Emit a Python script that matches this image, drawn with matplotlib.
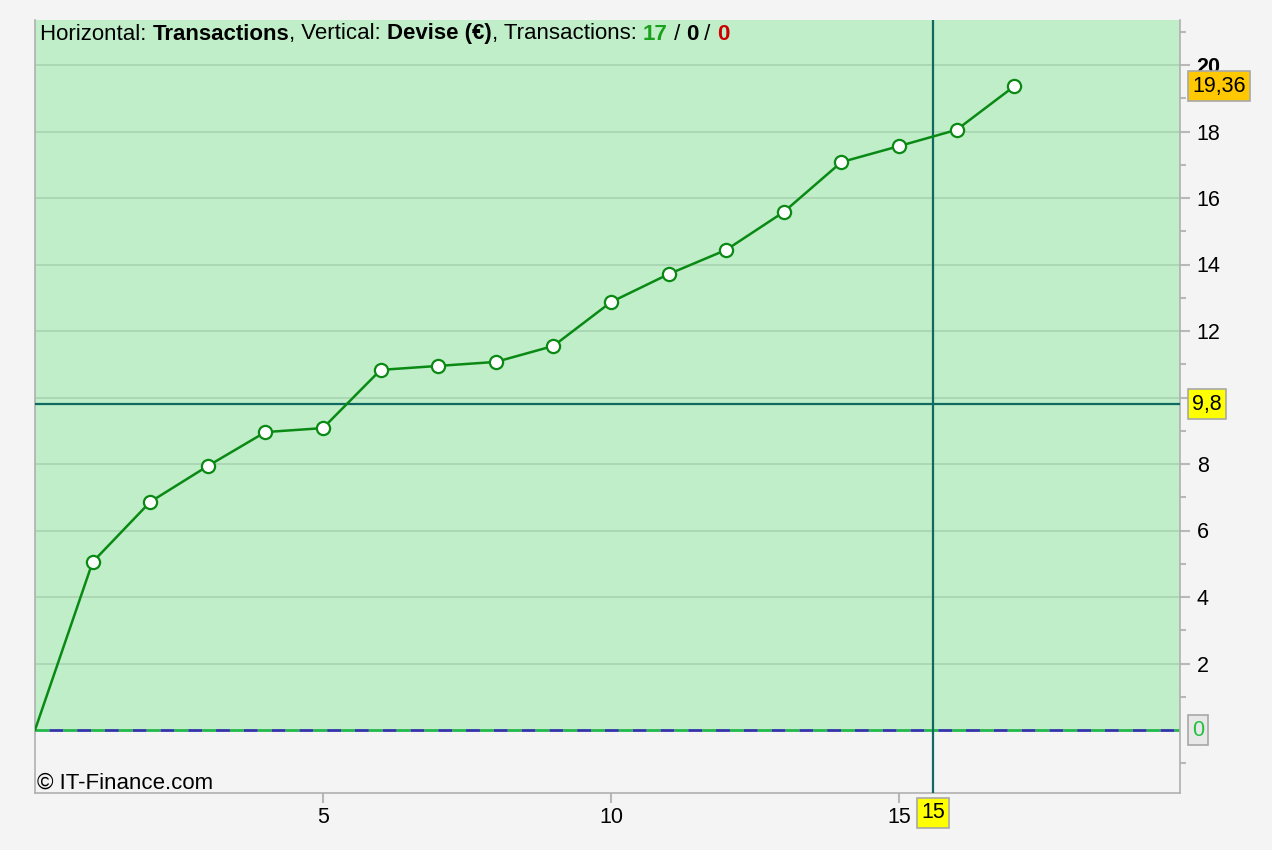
import matplotlib
matplotlib.use("Agg")
import matplotlib.pyplot as plt
from matplotlib.ticker import FixedLocator

plt.rcParams['font.family'] = ['Liberation Sans', 'DejaVu Sans']

# Data
trades = list(range(0, 18))
equity = [0, 5.05, 6.86, 7.94, 8.96, 9.08, 10.83, 10.95, 11.07, 11.55,
          12.87, 13.71, 14.44, 15.58, 17.08, 17.56, 18.05, 19.36]
y_ticks = [2, 4, 6, 8, 10, 12, 14, 16, 18, 20]
y_tick_labels = ["2", "4", "6", "8", "", "12", "14", "16", "18", "20"]
x_ticks = [5, 10, 15]
cross_x = 15.59
cross_y = 9.8
last_value = 19.36

bg = "#f4f4f4"
fill = "#bfeec8"
line_c = "#0a8a14"
cross_c = "#106a62"
FS = 15.5

fig = plt.figure(figsize=(12.72, 8.5), dpi=100, facecolor=bg)
ax = fig.add_axes([35/1272, 1-793/850, (1180-35)/1272, (793-20)/850])
ax.set_facecolor(bg)
xmin, xmax = 0, (1180-35)/57.6
ymin, ymax = -(793-730)/33.25, (730-20)/33.25
ax.set_xlim(xmin, xmax)
ax.set_ylim(ymin, ymax)

ax.axhspan(0, ymax, color=fill, zorder=0, lw=0)
for yv in y_ticks:
    ax.axhline(yv, color="#a9d3b1", lw=1.2, zorder=1)

# zero line (blue/green dashes)
ax.axhline(0, color="#22b84a", lw=2, ls=(0, (5, 5)), zorder=2)
ax.axhline(0, color="#3333aa", lw=2, ls=(5, (5, 5)), zorder=2)

# crosshair
ax.axvline(cross_x, color=cross_c, lw=1.6, zorder=3)
ax.axhline(cross_y, color=cross_c, lw=1.6, zorder=3)

ax.plot(trades, equity, color=line_c, lw=1.8, zorder=4,
        marker='o', markevery=list(range(1, len(trades))), markersize=9.5,
        markerfacecolor='white', markeredgecolor=line_c, markeredgewidth=1.6)

for s in ax.spines.values():
    s.set_color("#b0b0b0")
    s.set_linewidth(1.2)
ax.spines['top'].set_visible(False)

ax.yaxis.tick_right()
ax.yaxis.set_major_locator(FixedLocator(y_ticks))
ax.set_yticklabels(y_tick_labels)
ax.yaxis.set_minor_locator(FixedLocator([-1, 1, 3, 5, 7, 9, 11, 13, 15, 17, 19, 21]))
ax.tick_params(axis='y', which='major', length=7, width=1.5, color="#b8b8b8",
               labelsize=FS, pad=5, labelcolor="black")
ax.tick_params(axis='y', which='minor', length=4, width=1.5, color="#b8b8b8")
for lbl in ax.get_yticklabels():
    if lbl.get_text() == "20":
        lbl.set_fontweight("bold")

ax.xaxis.set_major_locator(FixedLocator(x_ticks))
ax.tick_params(axis='x', which='major', length=7, width=1.5, color="#b8b8b8",
               labelsize=FS, pad=3)

# right-side value labels
trans = ax.get_yaxis_transform()
ax.text(1.0105, last_value, "19,36", transform=trans, fontsize=FS, va='center', ha='left',
        bbox=dict(boxstyle='square,pad=0.2', fc="#ffc800", ec="#a8a8a8", lw=1.2), clip_on=False)
ax.text(1.0105, cross_y, "9,8", transform=trans, fontsize=FS, va='center', ha='left',
        bbox=dict(boxstyle='square,pad=0.2', fc="#ffff00", ec="#a8a8a8", lw=1.2), clip_on=False)
ax.text(1.0105, 0, "0", transform=trans, fontsize=FS, va='center', ha='left', color="#22c040",
        bbox=dict(boxstyle='square,pad=0.2', fc="#e8e8e8", ec="#a8a8a8", lw=1.2), clip_on=False)
ax.text(cross_x, -0.012, "15", transform=ax.get_xaxis_transform(), fontsize=FS,
        va='top', ha='center',
        bbox=dict(boxstyle='square,pad=0.2', fc="#ffff00", ec="#a8a8a8", lw=1.2), clip_on=False)

# header text
x0 = 40/1272
y0 = 1-34/850
parts = [("Horizontal: ", "normal", "black"), ("Transactions", "bold", "black"),
         (", Vertical: ", "normal", "black"), ("Devise (€)", "bold", "black"),
         (", Transactions: ", "normal", "black"), ("17", "bold", "#1aa01a"),
         (" / ", "normal", "black"), ("0", "bold", "black"), (" / ", "normal", "black"),
         ("0", "bold", "#cc0000")]
fig.canvas.draw()
renderer = fig.canvas.get_renderer()
xcur = x0
for txt, w, c in parts:
    t = fig.text(xcur, y0, txt, fontsize=16, fontweight=w, color=c, va='center', ha='left')
    bb = t.get_window_extent(renderer=renderer)
    xcur += bb.width / fig.bbox.width

fig.text(37/1272, 1-783/850, "© IT-Finance.com", fontsize=16, va='center', ha='left')

fig.savefig("out.png", dpi=100, facecolor=bg)
